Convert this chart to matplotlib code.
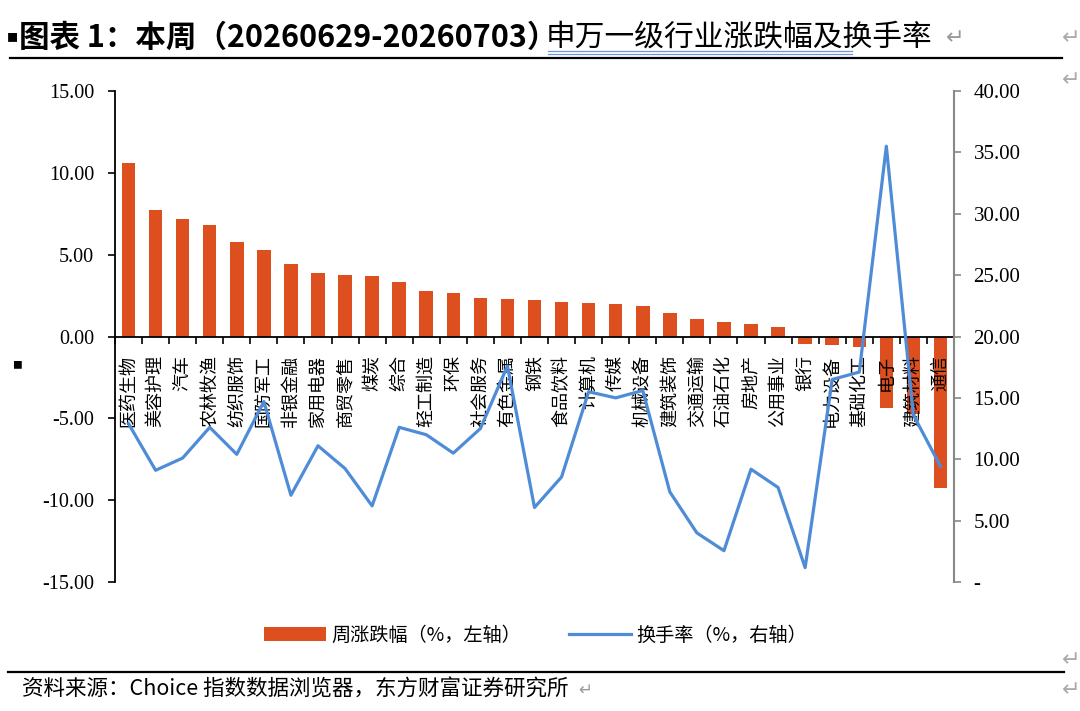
import numpy as np
import matplotlib
matplotlib.use("Agg")
import matplotlib.pyplot as plt
from matplotlib.lines import Line2D
from matplotlib.patches import Patch

plt.rcParams['font.family'] = ['Noto Sans CJK SC', 'DejaVu Sans']

# Industries (SW level 1), sorted by weekly change
industries = ['医药生物', '美容护理', '汽车', '农林牧渔', '纺织服饰', '国防军工', '非银金融',
              '家用电器', '商贸零售', '煤炭', '综合', '轻工制造', '环保', '社会服务',
              '有色金属', '钢铁', '食品饮料', '计算机', '传媒', '机械设备', '建筑装饰',
              '交通运输', '石油石化', '房地产', '公用事业', '银行', '电力设备', '基础化工',
              '电子', '建筑材料', '通信']

# weekly change (%, left axis)
weekly_change = [10.63, 7.72, 7.16, 6.81, 5.75, 5.30, 4.43, 3.88, 3.76, 3.70, 3.35,
                 2.79, 2.68, 2.34, 2.30, 2.20, 2.11, 2.07, 2.01, 1.85, 1.44, 1.06,
                 0.91, 0.79, 0.55, -0.45, -0.49, -0.65, -4.35, -4.76, -9.27]

# turnover (%, right axis)
turnover = [12.9, 9.1, 10.1, 12.6, 10.4, 14.7, 7.07, 11.1, 9.24, 6.2, 12.6, 12.0,
            10.5, 12.5, 17.6, 6.07, 8.56, 15.5, 15.0, 15.6, 7.34, 4.0, 2.55, 9.19,
            7.7, 1.17, 16.5, 17.1, 35.5, 13.6, 9.43]

left_ticks = [15, 10, 5, 0, -5, -10, -15]
right_ticks = [0, 5, 10, 15, 20, 25, 30, 35, 40]

bar_color = '#DE4F1F'
line_color = '#4F8CD8'
num_font = 'Liberation Serif'

fig = plt.figure(figsize=(10.8, 7.11), dpi=100)
ax = fig.add_axes([115 / 1080, 1 - 582 / 711, (954 - 115) / 1080, (582 - 91) / 711])

x = np.arange(len(industries))
ax.bar(x, weekly_change, width=0.5, color=bar_color, zorder=1)
ax.set_xlim(-0.5, len(industries) - 0.5)
ax.set_ylim(-15, 15)
ax.set_yticks(left_ticks)
ax.set_yticklabels([f'{v:.2f}' for v in left_ticks], fontname=num_font, fontsize=14.5)
ax.tick_params(axis='y', direction='out', length=5, width=1.2, pad=10, color='black')

ax.spines['top'].set_visible(False)
ax.spines['right'].set_visible(False)
ax.spines['left'].set_linewidth(1.3)
ax.spines['bottom'].set_position(('data', 0))
ax.spines['bottom'].set_linewidth(1.3)

# ticks on category boundaries, labels in the middle
ax.set_xticks(np.arange(len(industries) + 1) - 0.5)
ax.set_xticklabels([])
ax.tick_params(axis='x', which='major', direction='out', length=5, width=1.2)
ax.set_xticks(x, minor=True)
ax.set_xticklabels(industries, minor=True, rotation=90, fontsize=13, va='top', ha='center')
ax.tick_params(axis='x', which='minor', length=0, pad=13)

ax2 = ax.twinx()
ax2.plot(x, turnover, color=line_color, linewidth=2.3, zorder=3)
ax2.set_ylim(0, 40)
ax2.set_yticks(right_ticks)
ax2.set_yticklabels(['-' if v == 0 else f'{v:.2f}' for v in right_ticks],
                    fontname=num_font, fontsize=15)
ax2.tick_params(axis='y', direction='out', length=5, width=1.2, pad=9, color='#888888')
for s in ['top', 'left', 'bottom']:
    ax2.spines[s].set_visible(False)
ax2.spines['right'].set_color('#888888')
ax2.spines['right'].set_linewidth(1.5)

# legend
handles = [Patch(facecolor=bar_color, edgecolor='none'),
           Line2D([0], [0], color=line_color, linewidth=2.3)]
fig.legend(handles, ['周涨跌幅（%，左轴）', '换手率（%，右轴）'], loc='center',
           bbox_to_anchor=(0.496, 1 - 635 / 711), ncol=2, frameon=False, fontsize=13.8,
           handlelength=3.2, handletextpad=0.3, columnspacing=2.5)

# title and document decorations
ty = 1 - 38 / 711
fig.text(7 / 1080, ty, '■', fontsize=8, va='center', ha='left')
fig.text(19 / 1080, ty, '图表 1：本周（20260629-20260703）', fontsize=22, fontweight='bold',
         va='center', ha='left')
fig.text(546 / 1080, ty, '申万一级行业涨跌幅及换手率', fontsize=21.4, va='center', ha='left')
fig.text(946 / 1080, ty, '↵', fontsize=16, va='center', ha='left', color='#999999',
         family=['DejaVu Sans'])
for yy in (51, 54):
    fig.add_artist(Line2D([548 / 1080, 852 / 1080], [1 - yy / 711, 1 - yy / 711],
                          color='#6F94DC', linewidth=0.9))
fig.add_artist(Line2D([10 / 1080, 1062 / 1080], [1 - 58 / 711, 1 - 58 / 711],
                      color='black', linewidth=1.6))
fig.add_artist(Line2D([8 / 1080, 1064 / 1080], [1 - 672 / 711, 1 - 672 / 711],
                      color='black', linewidth=1.6))
fig.text(22 / 1080, 1 - 690 / 711, '资料来源：Choice 指数数据浏览器，东方财富证券研究所',
         fontsize=15.5, va='center', ha='left')
fig.text(578 / 1080, 1 - 690 / 711, '↵', fontsize=12, va='center', ha='left',
         color='#999999', family=['DejaVu Sans'])
fig.text(12 / 1080, 1 - 365 / 711, '■', fontsize=7, va='center', ha='left')
for yy in (38, 80, 660, 690):
    fig.text(1062 / 1080, 1 - yy / 711, '↵', fontsize=16, va='center', ha='left',
             color='#AAAAAA', family=['DejaVu Sans'])

fig.savefig('out.png', dpi=100)
